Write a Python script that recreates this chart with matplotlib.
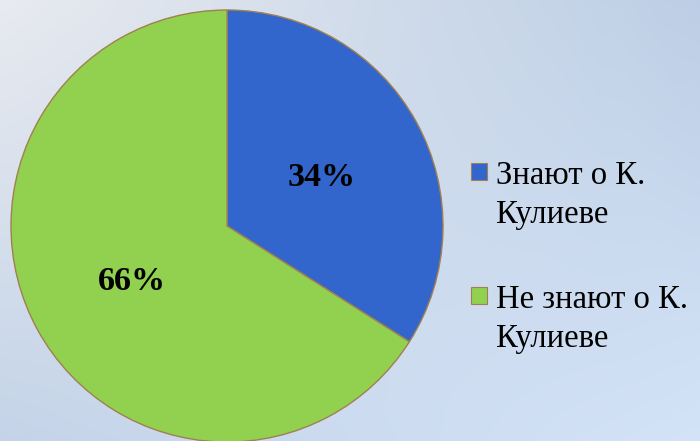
import matplotlib
matplotlib.use("Agg")
import matplotlib.pyplot as plt
from matplotlib.patches import Rectangle
import numpy as np

labels = ["Знают о К.\nКулиеве", "Не знают о К.\nКулиеве"]
shares = [34, 66]
colors = ["#3366CC", "#92D050"]

plt.rcParams['font.family'] = ['Liberation Serif', 'DejaVu Serif']

W, H = 700, 441
fig = plt.figure(figsize=(W / 100, H / 100), dpi=100)

# background gradient (corner colours)
bg = fig.add_axes([0, 0, 1, 1])
tl = np.array([0.91, 0.92, 0.94])
tr = np.array([0.74, 0.81, 0.90])
bl = np.array([0.77, 0.83, 0.91])
br = np.array([0.83, 0.89, 0.97])
u = np.linspace(0, 1, 200)[None, :, None]
v = np.linspace(0, 1, 130)[:, None, None]
grad = (1 - v) * ((1 - u) * tl + u * tr) + v * ((1 - u) * bl + u * br)
bg.imshow(grad, aspect='auto', extent=[0, 1, 0, 1], interpolation='bilinear')
bg.axis('off')

ax = fig.add_axes([11 / W, -1 / H, 432 / W, 432 / H])
wedges, texts, autotexts = ax.pie(
    shares, colors=colors, startangle=90, counterclock=False,
    autopct='%d%%', pctdistance=0.5,
    wedgeprops=dict(edgecolor='#a08050', linewidth=1),
    textprops=dict(fontsize=24.5, fontweight='bold', color='black',
                   va='center_baseline'))
ax.set_xlim(-1.0, 1.0)
ax.set_ylim(-1.0, 1.0)
ax.set_aspect('equal')

# legend: square marker next to the first line of each label
legend_top = [163, 287]  # pixel rows of marker tops
for lab, col, top in zip(labels, colors, legend_top):
    fig.patches.append(Rectangle((471 / W, 1 - (top + 17) / H), 16 / W, 17 / H,
                                 transform=fig.transFigure, facecolor=col,
                                 edgecolor='#a08050', linewidth=0.8))
    # va='baseline' anchors the last line, which sits one line below the first
    fig.text(496 / W, 1 - (top + 60) / H, lab, fontsize=23.5, color='black',
             ha='left', va='baseline', linespacing=1.37)

fig.savefig("out.png", dpi=100)
